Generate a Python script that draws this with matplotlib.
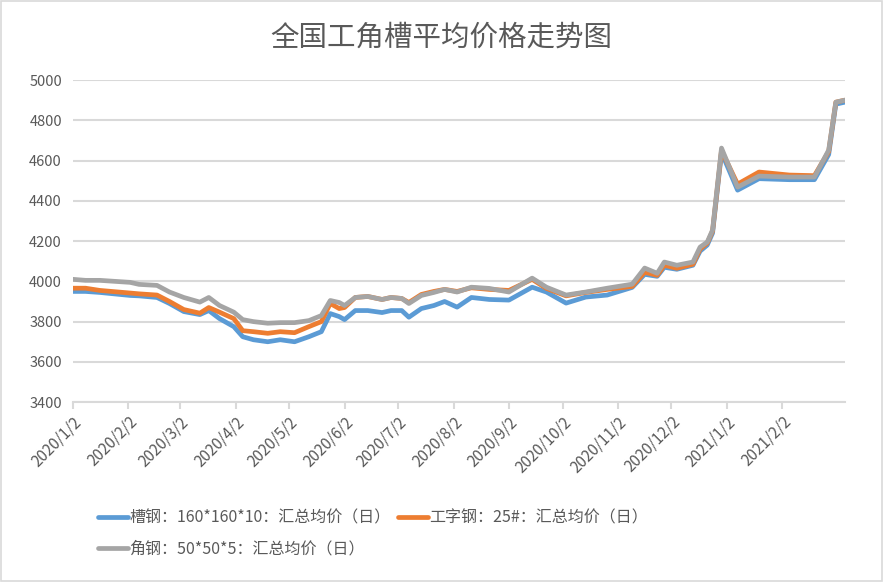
import numpy as np
import pandas as pd
import matplotlib
matplotlib.use("Agg")
import matplotlib.pyplot as plt
from matplotlib.patches import Rectangle

plt.rcParams['font.family'] = ['Noto Sans CJK SC', 'DejaVu Sans']

dates = ["2020-01-02", "2020-01-09", "2020-01-17", "2020-02-03", "2020-02-08", "2020-02-18",
         "2020-02-25", "2020-03-04", "2020-03-13", "2020-03-18", "2020-03-24", "2020-04-01",
         "2020-04-06", "2020-04-12", "2020-04-20", "2020-04-27", "2020-05-05", "2020-05-13",
         "2020-05-20", "2020-05-25", "2020-05-30", "2020-06-02", "2020-06-08", "2020-06-15",
         "2020-06-23", "2020-06-28", "2020-07-04", "2020-07-08", "2020-07-15", "2020-07-22",
         "2020-07-28", "2020-08-04", "2020-08-12", "2020-08-22", "2020-09-02", "2020-09-15",
         "2020-09-23", "2020-10-04", "2020-10-15", "2020-10-27", "2020-11-10", "2020-11-17",
         "2020-11-24", "2020-11-28", "2020-12-05", "2020-12-14", "2020-12-18", "2020-12-22",
         "2020-12-25", "2020-12-30", "2021-01-08", "2021-01-20", "2021-02-06", "2021-02-20",
         "2021-02-28", "2021-03-04", "2021-03-09"]

channel = [3950, 3950, 3945, 3930, 3928, 3920, 3890, 3850, 3835, 3855, 3815, 3775,
           3725, 3710, 3700, 3710, 3700, 3725, 3750, 3840, 3825, 3810, 3855, 3855,
           3845, 3855, 3855, 3822, 3865, 3880, 3900, 3872, 3920, 3910, 3907, 3971,
           3947, 3892, 3922, 3932, 3970, 4035, 4025, 4070, 4060, 4080, 4150, 4180,
           4240, 4640, 4453, 4510, 4505, 4505, 4630, 4880, 4890]

ibeam = [3966, 3966, 3955, 3942, 3938, 3932, 3900, 3860, 3842, 3870, 3847, 3815,
         3755, 3750, 3742, 3750, 3745, 3775, 3800, 3890, 3865, 3870, 3920, 3925,
         3910, 3920, 3915, 3895, 3935, 3950, 3960, 3950, 3968, 3960, 3955, 4010,
         3965, 3928, 3945, 3960, 3975, 4045, 4030, 4080, 4065, 4085, 4160, 4190,
         4250, 4650, 4483, 4543, 4528, 4525, 4645, 4890, 4900]

angle = [4010, 4005, 4005, 3995, 3985, 3980, 3947, 3920, 3897, 3920, 3880, 3847,
         3810, 3800, 3792, 3795, 3795, 3805, 3830, 3905, 3895, 3880, 3920, 3925,
         3910, 3920, 3915, 3890, 3930, 3945, 3960, 3947, 3971, 3965, 3947, 4016,
         3971, 3932, 3947, 3966, 3986, 4066, 4040, 4096, 4080, 4096, 4170, 4195,
         4255, 4662, 4468, 4523, 4518, 4518, 4652, 4890, 4900]

labels = ["槽钢：160*160*10：汇总均价（日）", "工字钢：25#：汇总均价（日）", "角钢：50*50*5：汇总均价（日）"]
colors = ["#5b9bd5", "#ed7d31", "#a5a5a5"]

x = pd.to_datetime(dates)
text_c = "#595959"
grid_c = "#d9d9d9"

fig = plt.figure(figsize=(8.83, 5.82), dpi=100)
ax = fig.add_axes([0.0827, 0.309, 0.874, 0.5535])

handles = []
for vals, lab, col in zip([channel, ibeam, angle], labels, colors):
    h, = ax.plot(x, vals, color=col, lw=3.4, label=lab, solid_capstyle='round', solid_joinstyle='round')
    handles.append(h)

ax.set_ylim(3400, 5000)
ax.set_yticks(np.arange(3400, 5001, 200))
ax.set_xlim(pd.Timestamp("2020-01-02"), pd.Timestamp("2021-03-09"))
ticks = pd.date_range("2020-01-01", "2021-02-01", freq="MS") + pd.Timedelta(days=1)
ax.set_xticks(ticks)
ax.set_xticklabels([f"{d.year}/{d.month}/{d.day}" for d in ticks], rotation=45,
                   ha='right', rotation_mode='anchor', fontsize=11, color=text_c)

ax.grid(axis='y', color=grid_c, lw=1.5)
ax.set_axisbelow(True)
for s in ['top', 'right', 'left']:
    ax.spines[s].set_visible(False)
ax.spines['bottom'].set_color(grid_c)
ax.spines['bottom'].set_linewidth(1.5)
ax.tick_params(axis='y', length=0, labelsize=10.5, labelcolor=text_c, pad=8)
ax.tick_params(axis='x', length=5, width=1.5, color=grid_c, pad=3)

fig.suptitle("全国工角槽平均价格走势图", x=0.5, y=0.935, va='center', fontsize=20.5, color=text_c)

leg = fig.legend([handles[0], handles[2], handles[1]], [labels[0], labels[2], labels[1]],
                 ncol=2, loc='center left', bbox_to_anchor=(0.102, 0.0834), frameon=False,
                 fontsize=11.5, handlelength=1.9, handletextpad=0.05, columnspacing=0.45,
                 labelspacing=0.85, borderpad=0)
for t in leg.get_texts():
    t.set_color(text_c)

fig.patches.append(Rectangle((0.001, 0.001), 0.998, 0.998, transform=fig.transFigure,
                             fill=False, edgecolor=grid_c, lw=1.2))

fig.savefig("out.png", dpi=100)
